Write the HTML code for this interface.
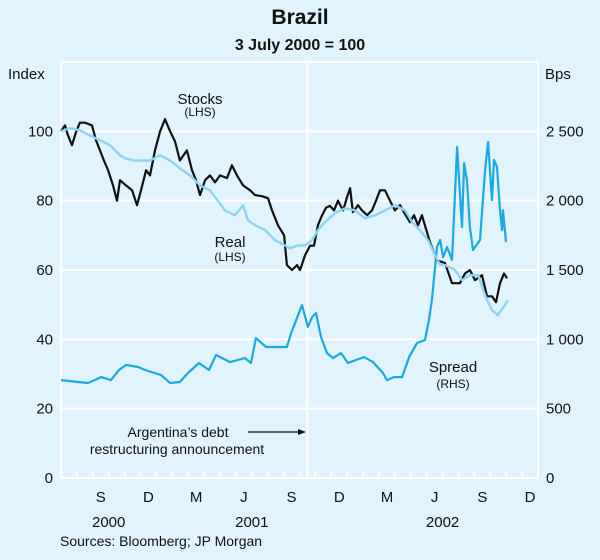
<!DOCTYPE html>
<html><head><meta charset="utf-8"><style>
html,body{margin:0;padding:0;background:#e1f3fc;}
svg{display:block;font-family:"Liberation Sans",Arial,sans-serif;}
</style></head><body>
<svg id="chart" width="600" height="560" viewBox="0 0 600 560">
<rect x="0" y="0" width="600" height="560" fill="#e1f3fc"/>
<text x="300" y="24" text-anchor="middle" font-size="21" font-weight="bold" fill="#111">Brazil</text>
<text x="300" y="50" text-anchor="middle" font-size="16" font-weight="bold" fill="#111">3 July 2000 = 100</text>
<text x="8" y="79" font-size="15" fill="#111">Index</text>
<text x="545" y="79" font-size="15" fill="#111">Bps</text>
<g id="grid"></g>
<g id="series"></g>
<g id="labels">
<text x="200" y="104" text-anchor="middle" font-size="15" fill="#111">Stocks</text>
<text x="200" y="116" text-anchor="middle" font-size="12" fill="#111">(LHS)</text>
<text x="230" y="247" text-anchor="middle" font-size="15" fill="#111">Real</text>
<text x="230" y="261" text-anchor="middle" font-size="12" fill="#111">(LHS)</text>
<text x="453" y="372" text-anchor="middle" font-size="15" fill="#111">Spread</text>
<text x="453" y="388" text-anchor="middle" font-size="12" fill="#111">(RHS)</text>
<text x="178" y="437" text-anchor="middle" font-size="14" fill="#111">Argentina’s debt</text>
<text x="177" y="454" text-anchor="middle" font-size="14" fill="#111">restructuring announcement</text>
<line x1="248" y1="432" x2="300" y2="432" stroke="#111" stroke-width="1.3"/>
<polygon points="306,432 298,429 298,435" fill="#111"/>
<text x="60" y="546" font-size="14" fill="#111">Sources: Bloomberg; JP Morgan</text>
</g>
</svg>
<script>
const leftTicks=[0,20,40,60,80,100];
const rightTicks=["0","500","1 000","1 500","2 000","2 500"];
const monthLabels=["S","D","M","J","S","D","M","J","S","D"];
const monthLabelPos=[2,5,8,11,14,17,20,23,26,29];
const years=["2000","2001","2002"];
const yearPos=[3,12,24];
const eventMonth=15.5;
const stocksT=[0,0.25,0.44,0.69,0.94,1.19,1.51,1.95,2.2,2.45,2.7,2.96,3.27,3.52,3.71,4.09,4.47,4.78,5.03,5.35,5.6,5.91,6.23,6.54,6.86,7.17,7.48,7.92,8.24,8.49,8.74,9.06,9.37,9.69,10,10.44,10.75,11.07,11.45,11.89,12.2,12.64,13.02,13.27,13.65,14.03,14.21,14.53,14.84,15.03,15.35,15.66,15.91,16.16,16.42,16.67,16.92,17.17,17.42,17.74,17.99,18.18,18.36,18.68,18.93,19.25,19.56,19.81,20.06,20.38,20.69,21,21.32,21.64,21.95,22.2,22.45,22.7,23.21,23.65,24.15,24.59,25.09,25.41,25.72,26.04,26.48,26.79,27.11,27.36,27.61,27.86,28.05];
const stocksV=[100,101.7,98.8,96,99.7,102.5,102.5,101.7,97.4,94.5,91.6,88.8,84.4,80,85.9,84.4,83,78.7,83,88.8,87.3,94.5,100,103.5,100,97.1,91.6,94.5,88.8,85.9,81.6,85.9,87.3,85.3,87.3,86.5,90.2,87.3,84.4,83,81.6,81.3,80.7,77.2,72.9,70,61.4,60,61.4,60,64.3,67,67,72.9,75.8,78,78.5,77.2,80,77.2,81,83.6,76.7,78.7,77.2,75.8,77.2,80,83,83,80,77.2,78.7,76.1,73.8,75.8,72.9,75.8,68,62.8,62,56.2,56.2,59,60,57.1,58.5,52.4,52.4,50.7,56.2,59,57.6];
const realT=[0,0.57,1.19,1.82,2.45,3.08,3.71,4.03,4.65,5.6,6.23,6.86,7.48,8.11,8.74,9.37,9.87,10.31,10.94,11.45,11.76,12.2,12.83,13.46,14.09,14.4,14.91,15.35,15.79,16.16,16.6,17.23,17.86,18.49,19.12,19.75,20.38,21,21.64,22.08,22.58,23.08,23.52,23.84,24.15,24.78,25.22,25.72,26.23,26.67,27.11,27.48,27.92,28.11];
const realV=[100,100.9,100.3,98.8,97.4,96,93.1,92.2,91.6,91.6,93.1,91.6,89.3,87.3,84.4,83,80,77.2,75.8,78.7,74.3,72.9,71.5,68.6,67.1,66.3,67.1,67.1,68.6,71.5,73.8,76.4,77.8,77.2,74.9,75.8,77.2,78.7,77.2,73.8,71.5,68.6,64.3,61.4,61.4,60,57.1,58.5,58.5,52.7,48.4,47,49.9,51.3];
const spreadT=[0,1.7,2.52,3.14,3.65,4.09,4.84,5.28,6.29,6.86,7.48,7.99,8.68,9.31,9.75,10.63,11.57,11.95,12.26,12.89,13.52,14.21,14.47,14.84,15.16,15.53,15.79,16.04,16.35,16.73,17.11,17.61,18.05,18.55,19.06,19.62,20.25,20.5,20.94,21.45,21.89,22.39,22.89,23.14,23.33,23.65,23.84,24.03,24.28,24.59,24.91,25.09,25.22,25.35,25.53,25.72,25.91,26.35,26.67,26.86,27.11,27.23,27.42,27.61,27.74,27.8,27.99];
const spreadV=[706,685,728,706,779,815,801,779,743,685,692,757,829,779,887,836,865,829,1009,945,945,945,1045,1154,1247,1089,1161,1190,1017,901,865,901,829,851,872,836,757,706,728,728,872,973,995,1139,1283,1665,1716,1593,1665,1572,2386,2055,1810,2271,2148,1810,1644,1716,2221,2423,2004,2293,2242,1932,1788,1932,1702];

const X0=61,X1=538,Y0=478,YT=62,NM=30;
const xs=m=>X0+(X1-X0)*m/NM;
const yL=v=>Y0-(Y0-YT)*v/120;
const yR=v=>Y0-(Y0-YT)*v/3000;
const NS="http://www.w3.org/2000/svg";
function mk(tag,attrs,parent){const e=document.createElementNS(NS,tag);for(const k in attrs)e.setAttribute(k,attrs[k]);parent.appendChild(e);return e;}
const grid=document.getElementById('grid'),ser=document.getElementById('series');
// frame
let e=mk('line',{x1:X0,y1:YT,x2:X1,y2:YT,stroke:'#fff','stroke-width':2},grid);


e=mk('line',{x1:X0,y1:YT,x2:X0,y2:Y0,stroke:'#fff','stroke-width':2},grid);


e=mk('line',{x1:X1,y1:YT,x2:X1,y2:Y0,stroke:'#fff','stroke-width':2},grid);


leftTicks.forEach((v,i)=>{
  const y=yL(v);
  const g=mk('line',{x1:X0,y1:y,x2:X1,y2:y,stroke:'#fff','stroke-width':2},grid);
  
  
  const t=mk('text',{x:53,y:y+5,'text-anchor':'end','font-size':15,fill:'#111'},grid);t.textContent=v;
  
  
  const r=mk('text',{x:546,y:y+5,'font-size':15,fill:'#111'},grid);r.textContent=rightTicks[i];
  
  
});
for(let m=1;m<NM;m++){
  const t=mk('line',{x1:xs(m),y1:Y0,x2:xs(m),y2:Y0-6,stroke:'#fff','stroke-width':1.5},grid);
  
  
}
e=mk('line',{x1:xs(eventMonth),y1:YT,x2:xs(eventMonth),y2:Y0,stroke:'#fff','stroke-width':2},grid);


monthLabels.forEach((s,i)=>{
  const t=mk('text',{x:xs(monthLabelPos[i]+0.5),y:502,'text-anchor':'middle','font-size':15,fill:'#111'},grid);t.textContent=s;
  
  
});
years.forEach((s,i)=>{
  const t=mk('text',{x:xs(yearPos[i]),y:527,'text-anchor':'middle','font-size':15,fill:'#111'},grid);t.textContent=s;
  
  
});
function path(T,V,yf){return T.map((t,i)=>(i?'L':'M')+xs(t).toFixed(1)+','+yf(V[i]).toFixed(1)).join('');}
let p=mk('path',{d:path(spreadT,spreadV,yR),fill:'none',stroke:'#1ba9e6','stroke-width':2.2,'stroke-linejoin':'round'},ser);


p=mk('path',{d:path(stocksT,stocksV,yL),fill:'none',stroke:'#111','stroke-width':2.2,'stroke-linejoin':'round'},ser);


p=mk('path',{d:path(realT,realV,yL),fill:'none',stroke:'#8dd5f7','stroke-width':2.4,'stroke-linejoin':'round'},ser);


</script>
</body></html>
